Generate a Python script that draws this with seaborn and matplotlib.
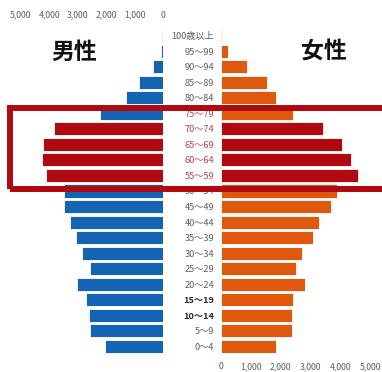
import matplotlib
matplotlib.use("Agg")
import matplotlib.pyplot as plt
from matplotlib.patches import Rectangle
import pandas as pd
import seaborn as sns

# Age groups, oldest first (top of the pyramid)
ages = ["100歳以上", "95～99", "90～94", "85～89", "80～84", "75～79", "70～74",
        "65～69", "60～64", "55～59", "50～54", "45～49", "40～44", "35～39",
        "30～34", "25～29", "20～24", "15～19", "10～14", "5～9", "0～4"]

# Population by age group
male = [20, 60, 350, 830, 1290, 2220, 3850, 4240, 4270, 4130, 3470,
        3470, 3260, 3060, 2850, 2570, 3020, 2710, 2600, 2570, 2050]
female = [30, 230, 870, 1530, 1830, 2400, 3430, 4070, 4370, 4600, 3900,
          3700, 3270, 3070, 2700, 2530, 2830, 2430, 2370, 2370, 1830]

# Age groups drawn in the emphasis colour
focus = ["70～74", "65～69", "60～64", "55～59"]

tick_values = [0, 1000, 2000, 3000, 4000, 5000]
tick_labels = ["0", "1,000", "2,000", "3,000", "4,000", "5,000"]

BLUE = "#1464b4"
ORANGE = "#e0580e"
RED = "#b00a10"
GREY = "#5f5f5f"

sns.set_theme(style="white")
plt.rcParams["font.family"] = ["Noto Sans CJK JP", "DejaVu Sans"]

df = pd.DataFrame({"age": ages, "male": male, "female": female})
male_pal = {a: (RED if a in focus else BLUE) for a in ages}
female_pal = {a: (RED if a in focus else ORANGE) for a in ages}

W, H = 382, 372
fig = plt.figure(figsize=(W / 100, H / 100), dpi=100)


def px_axes(x0, x1, ytop, ybot):
    return fig.add_axes([x0 / W, (H - ybot) / H, (x1 - x0) / W, (ybot - ytop) / H])


axL = px_axes(5, 163, 28, 354)
axR = px_axes(221, 380, 28, 354)

bar_kw = dict(orient="h", width=0.84, legend=False, edgecolor="white",
              linewidth=0.6, saturation=1)
sns.barplot(data=df, x="male", y="age", hue="age", palette=male_pal, ax=axL, **bar_kw)
sns.barplot(data=df, x="female", y="age", hue="age", palette=female_pal, ax=axR, **bar_kw)

for ax in (axL, axR):
    ax.set_xlabel("")
    ax.set_ylabel("")
    ax.set_ylim(len(ages) - 0.5, -0.5)
    for s in ax.spines.values():
        s.set_visible(False)
    ax.set_xticks(tick_values)
    ax.set_xticklabels(tick_labels)
    ax.tick_params(axis="x", length=0, labelsize=6.3, colors=GREY, pad=6)

# Male side grows to the left, scale on top
axL.set_xlim(5560, 0)
axL.xaxis.tick_top()
axL.tick_params(axis="y", left=False, labelleft=False)

# Female side grows to the right, scale below; age labels sit in the gap
axR.set_xlim(0, 5330)
axR.tick_params(axis="y", length=0, labelsize=6.6, pad=5)
for lab in axR.get_yticklabels():
    t = lab.get_text()
    if t in focus or t == "75～79":
        lab.set_color("#c0404a")
    elif t in ("15～19", "10～14"):
        lab.set_color("#2a2a2a")
        lab.set_fontweight("bold")
    else:
        lab.set_color(GREY)

fig.text(74 / W, 1 - 52 / H, "男性", ha="center", va="center",
         fontsize=16.5, fontweight="bold", color="#111111")
fig.text(324 / W, 1 - 52 / H, "女性", ha="center", va="center",
         fontsize=16.5, fontweight="bold", color="#111111")

# Frame around the highlighted age band
frame = Rectangle((10 / W, (H - 189) / H), (420 - 10) / W, (189 - 108) / H,
                  transform=fig.transFigure, fill=False, edgecolor=RED,
                  linewidth=4.3, zorder=10, clip_on=False)
fig.add_artist(frame)

fig.savefig("out.png", dpi=100)
